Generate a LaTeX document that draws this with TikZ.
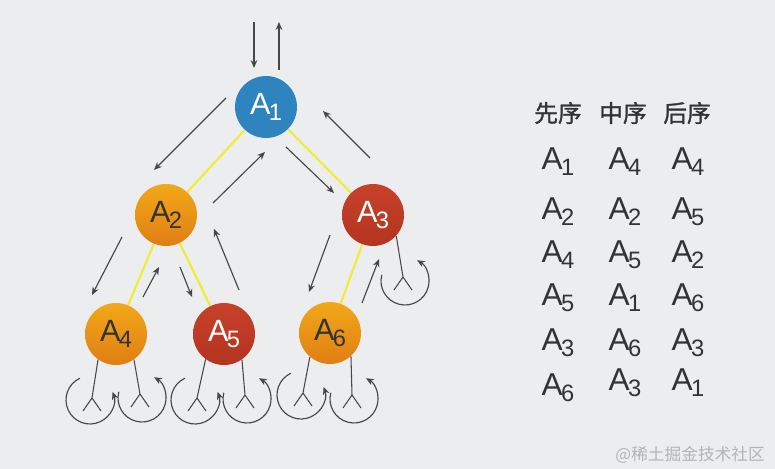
\documentclass[tikz,border=0pt]{standalone}
\usepackage{fontspec}
\setmainfont{Liberation Sans}
\newfontfamily\cjk{Noto Sans CJK SC}
\newfontfamily\cjkhead{Noto Sans CJK SC}[FakeBold=1.2]
\usetikzlibrary{arrows.meta,positioning,calc,backgrounds}
\definecolor{bg}{HTML}{ECEDEF}
\definecolor{root}{HTML}{2E84BF}
\definecolor{ambtop}{HTML}{F2A818}
\definecolor{ambbot}{HTML}{E07E14}
\definecolor{rusttop}{HTML}{C8412A}
\definecolor{rustbot}{HTML}{B3341F}
\definecolor{link}{HTML}{F0EC34}
\definecolor{ink}{HTML}{474747}
\definecolor{txt}{HTML}{333333}
\definecolor{wmark}{HTML}{B4B4B4}
\newcommand\An[1]{A\kern-1pt\raisebox{-.35ex}{\fontsize{13.5}{14}\selectfont #1}}

\begin{document}
\begin{tikzpicture}[
  x=0.02cm,y=-0.02cm,
  font=\fontsize{17.5}{20}\selectfont,
  vertex/.style={circle,minimum size=1.24cm,inner sep=0pt,text=white},
  amber/.style={vertex,top color=ambtop,bottom color=ambbot,text=txt},
  rust/.style={vertex,top color=rusttop,bottom color=rustbot},
  tree/.style={draw=link,line width=1.2pt},
  walk/.style={-{Stealth[length=4.5pt,width=3.8pt]},draw=ink,line width=.65pt},
  nil/.style={draw=ink,line width=.6pt},
  cell/.style={text=txt,font=\fontsize{18}{20}\selectfont}
]
\useasboundingbox (0,0) rectangle (775,469);
% tree
\node[vertex,fill=root] (a1) at (266,107) {\An1};
\node[amber] (a2) at (166,215) {\An2};
\node[rust] (a3) at (373,215) {\An3};
\node[amber] (a4) at (116,334) {\An4};
\node[rust] (a5) at (224,334) {\An5};
\node[amber] (a6) at (330,333) {\An6};
\begin{scope}[on background layer]
  \fill[bg] (0,0) rectangle (775,469);
  \foreach \u/\v in {a1/a2,a1/a3,a2/a4,a2/a5,a3/a6}
    \draw[tree] (\u) -- (\v);
\end{scope}
% traversal
\foreach \sx/\sy/\tx/\ty in {254/22/254/68, 279/70/279/22, 226/98/154/170, 213/203/265/152,
    286/147/334/193, 370/158/323/111, 122/237/92/295, 143/297/159/267,
    180/267/192/297, 239/290/214/229, 330/235/309/292, 362/303/379/259}
  \draw[walk] (\sx,\sy) -- (\tx,\ty);
% empty children
\foreach \n/\ang/\px/\py in {a4/235/92/398, a5/234/197/398, a6/230/303/393}{
  \coordinate (tip) at (\px,\py);
  \draw[nil] (\n.\ang) -- (tip) -- ++(-9,13) (tip) -- ++(9,13);
  \draw[walk] ($(\px-2,\py+2)+(115:4.8mm)$) arc[start angle=115,end angle=380,radius=4.8mm];
}
\foreach \n/\ang/\px/\py in {a4/305/140/394, a5/305/245/395, a6/312/352/395, a3/318/403/277}{
  \coordinate (tip) at (\px,\py);
  \draw[nil] (\n.\ang) -- (tip) -- ++(-9,13) (tip) -- ++(9,13);
  \draw[walk] ($(\px+2,\py+4)+(165:4.8mm)$) arc[start angle=165,end angle=420,radius=4.8mm];
}
% orders
\foreach \t/\x [count=\i] in {先序/558,中序/623,后序/687}
  \node[text=txt,font=\cjkhead\fontsize{13.5}{14}\selectfont] (h\i) at (\x,113) {\t};
\foreach \a/\b/\c/\ya/\yb [count=\i] in {1/4/4/162/162, 2/2/5/212/212, 4/5/2/255/255,
    5/1/6/298/298, 3/6/3/343/343, 6/3/1/388/383}{
  \node[cell] (pre\i) at (558,\ya) {\An\a};
  \node[cell] (in\i) at (625,\yb) {\An\b};
  \node[cell] (post\i) at (688,\yb) {\An\c};
}
\node[text=wmark,font=\cjk\fontsize{9.5}{11}\selectfont,anchor=east] (wm) at (771,455) {@稀土掘金技术社区};
\end{tikzpicture}
\end{document}
